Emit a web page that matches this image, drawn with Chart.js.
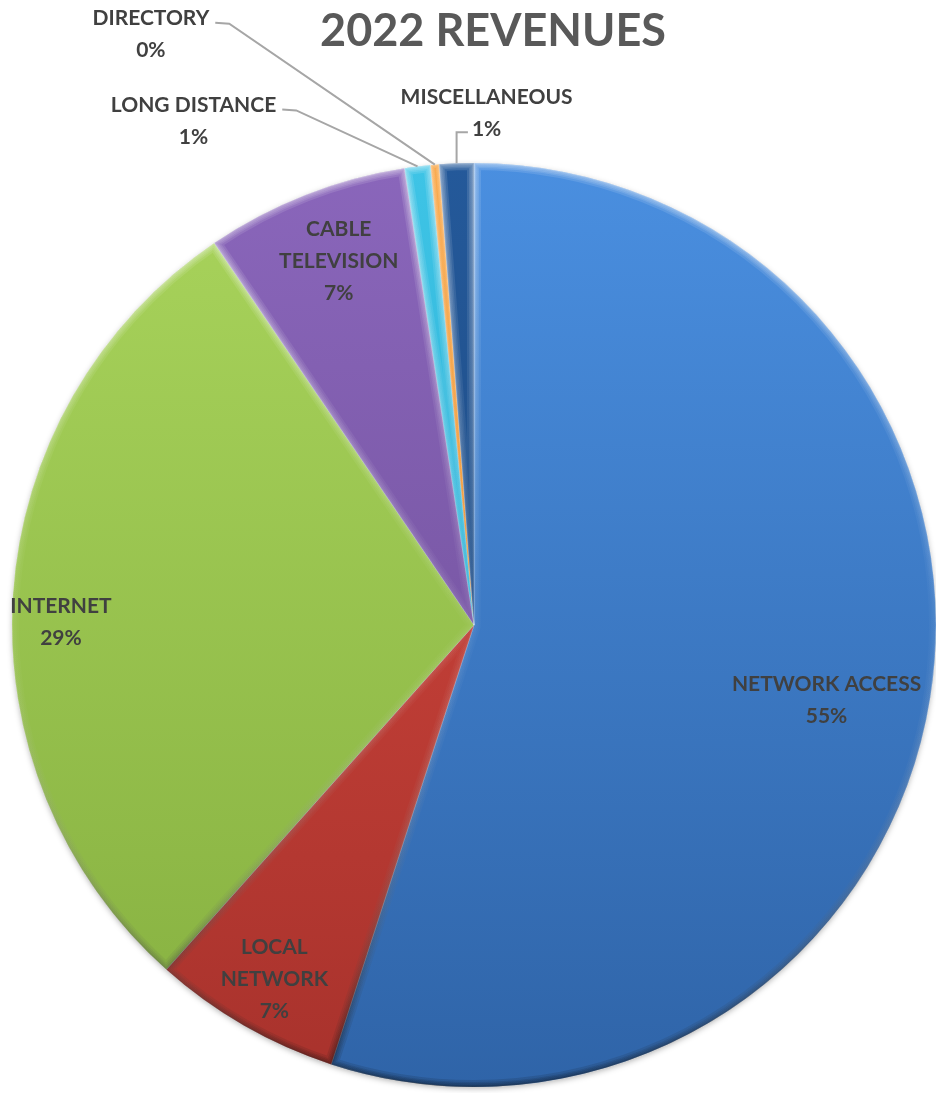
<!DOCTYPE html>
<html lang="en">
<head>
<meta charset="UTF-8">
<title>2022 Revenues</title>
<style>
  body { margin: 0; background: #fff; }
  .chartBox { width: 936px; height: 1093px; }
</style>
</head>
<body>
<div class="chartBox">
  <canvas id="myChart" width="936" height="1093"></canvas>
</div>
<script src="https://cdn.jsdelivr.net/npm/chart.js"></script>
<script>
// data (share of 2022 revenues, %)
const categories = ['NETWORK ACCESS', 'LOCAL NETWORK', 'INTERNET', 'CABLE TELEVISION', 'LONG DISTANCE', 'DIRECTORY', 'MISCELLANEOUS'];
const revenueShare = [55.0, 6.6, 28.9, 7.1, 0.9, 0.3, 1.2];
// how the labels are broken into lines
const labelLines = [
  ['NETWORK ACCESS'],
  ['LOCAL', 'NETWORK'],
  ['INTERNET'],
  ['CABLE', 'TELEVISION'],
  ['LONG DISTANCE'],
  ['DIRECTORY'],
  ['MISCELLANEOUS']
];

// top / bottom colours of each slice
const topColors = ['#4a8fe0', '#d84a40', '#a9d45c', '#8a66bb', '#3ec4e6', '#f7931e', '#24599a'];
const bottomColors = ['#2f64a8', '#a8322c', '#86b040', '#6a4b92', '#22a2c8', '#e07a10', '#1b4477'];

// inside labels: [part of radius, part of the slice's sweep]
const insidePos = {0: [0.78, 0.515], 1: [0.88, 0.48], 2: [0.894, 0.467], 3: [0.84, 0.54]};
// outside labels: text centre relative to the slice's outer point, leader kind
const outside = {
  4: {dx: -224, dy: -45, kind: 'h'},
  5: {dx: -284, dy: -130, kind: 'h'},
  6: {dx: 30, dy: -50, kind: 'v'}
};

const labelFont = 'bold 21px Lato';
const lineH = 32;

function arcPath(ctx, p) {
  ctx.beginPath();
  ctx.moveTo(p.x, p.y);
  ctx.arc(p.x, p.y, p.outerRadius, p.startAngle, p.endAngle);
  ctx.closePath();
}

const bevelPlugin = {
  id: 'bevel',
  beforeDatasetsDraw(chart) {
    // soft shadow under the whole pie
    const ctx = chart.ctx;
    const p = chart.getDatasetMeta(0).data[0];
    if (!p) return;
    ctx.save();
    ctx.shadowColor = 'rgba(0,0,0,0.35)';
    ctx.shadowBlur = 6;
    ctx.shadowOffsetY = 2;
    ctx.fillStyle = '#3a6fb5';
    ctx.beginPath();
    ctx.arc(p.x, p.y, p.outerRadius - 1, 0, Math.PI * 2);
    ctx.fill();
    ctx.restore();
  },
  afterDatasetsDraw(chart) {
    const ctx = chart.ctx;
    const area = chart.chartArea;
    chart.getDatasetMeta(0).data.forEach((arc) => {
      const p = arc.getProps(['x', 'y', 'startAngle', 'endAngle', 'outerRadius'], true);
      ctx.save();
      arcPath(ctx, p);
      ctx.clip();
      const g = ctx.createLinearGradient(0, area.top, 0, area.bottom);
      g.addColorStop(0, 'rgba(255,255,255,0.12)');
      g.addColorStop(0.5, 'rgba(255,255,255,0.02)');
      g.addColorStop(1, 'rgba(0,0,0,0.12)');
      ctx.strokeStyle = g;
      ctx.lineJoin = 'round';
      [14, 10, 7, 4, 2].forEach((w) => {
        ctx.lineWidth = w;
        arcPath(ctx, p);
        ctx.stroke();
      });
      ctx.restore();
    });
  }
};

const labelPlugin = {
  id: 'sliceLabels',
  afterDatasetsDraw(chart) {
    const ctx = chart.ctx;
    const meta = chart.getDatasetMeta(0);
    const total = revenueShare.reduce((a, b) => a + b, 0);
    ctx.save();
    ctx.font = labelFont;
    ctx.fillStyle = '#404040';
    ctx.textAlign = 'center';
    ctx.textBaseline = 'middle';
    meta.data.forEach((arc, i) => {
      const p = arc.getProps(['x', 'y', 'startAngle', 'endAngle', 'outerRadius'], true);
      const mid = (p.startAngle + p.endAngle) / 2;
      const lines = labelLines[i].concat([Math.round(revenueShare[i] / total * 100) + '%']);
      let cx, cy;
      if (insidePos[i] !== undefined) {
        const r = p.outerRadius * insidePos[i][0];
        const a = p.startAngle + (p.endAngle - p.startAngle) * insidePos[i][1];
        cx = p.x + Math.cos(a) * r;
        cy = p.y + Math.sin(a) * r;
      } else {
        const o = outside[i];
        const ex = p.x + Math.cos(mid) * p.outerRadius;
        const ey = p.y + Math.sin(mid) * p.outerRadius;
        cx = ex + o.dx;
        cy = ey + o.dy;
        ctx.strokeStyle = '#a6a6a6';
        ctx.lineWidth = 2;
        ctx.beginPath();
        ctx.moveTo(ex, ey);
        if (o.kind === 'h') {
          const w = ctx.measureText(lines[0]).width;
          const ax = cx + w / 2 + 6;
          const ay = cy - lineH / 2 + 4;
          ctx.lineTo(ax + 14, ay + 1);
          ctx.lineTo(ax, ay);
        } else {
          const w = ctx.measureText(lines[1]).width;
          const ax = cx - w / 2 - 4;
          const ay = cy + lineH / 2 + 3;
          ctx.lineTo(ex, ay);
          ctx.lineTo(ax, ay);
        }
        ctx.stroke();
      }
      const y0 = cy - (lines.length - 1) * lineH / 2;
      lines.forEach((t, k) => ctx.fillText(t, cx, y0 + k * lineH));
    });
    // title
    ctx.font = 'bold 45px Lato';
    ctx.fillStyle = '#595959';
    ctx.fillText('2022 REVENUES', 493, 31);
    ctx.restore();
  }
};

const data = {
  labels: categories,
  datasets: [{
    data: revenueShare,
    backgroundColor: (c) => {
      const area = c.chart.chartArea;
      if (!area) return topColors[c.dataIndex];
      const g = c.chart.ctx.createLinearGradient(0, area.top, 0, area.bottom);
      g.addColorStop(0, topColors[c.dataIndex]);
      g.addColorStop(1, bottomColors[c.dataIndex]);
      return g;
    },
    borderColor: 'rgba(255,255,255,0.2)',
    borderWidth: 1,
    hoverOffset: 0
  }]
};

const config = {
  type: 'pie',
  data,
  options: {
    responsive: false,
    animation: false,
    radius: 462,
    layout: { padding: { left: 12, right: 0, top: 163, bottom: 6 } },
    plugins: {
      legend: { display: false },
      tooltip: { enabled: false }
    }
  },
  plugins: [bevelPlugin, labelPlugin]
};

const myChart = new Chart(document.getElementById('myChart'), config);
</script>
</body>
</html>
